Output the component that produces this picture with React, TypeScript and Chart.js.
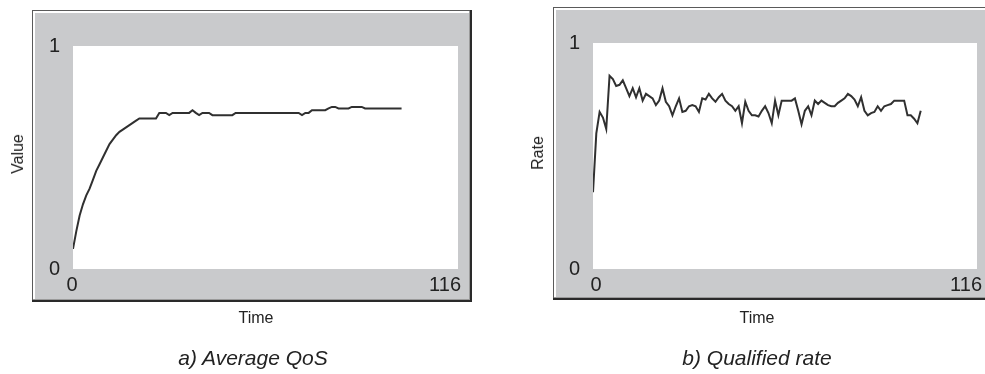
import React, { useEffect, useRef } from "react";
import { Chart, registerables } from "chart.js";

Chart.register(...registerables);

// ---- data ----
const timeMin = 0;
const timeMax = 116;
const valueTicks = [0, 1];
const timeTickLabels = [0, 116];

const averageQoS = [
  0.09, 0.17, 0.24, 0.29, 0.33, 0.36, 0.40, 0.44, 0.47, 0.50,
  0.53, 0.56, 0.58, 0.60, 0.615, 0.625, 0.635, 0.645, 0.655, 0.665,
  0.675, 0.675, 0.675, 0.675, 0.675, 0.675, 0.70, 0.70, 0.70, 0.69,
  0.70, 0.70, 0.70, 0.70, 0.70, 0.70, 0.712, 0.70, 0.69, 0.70,
  0.70, 0.70, 0.69, 0.69, 0.69, 0.69, 0.69, 0.69, 0.69, 0.70,
  0.70, 0.70, 0.70, 0.70, 0.70, 0.70, 0.70, 0.70, 0.70, 0.70,
  0.70, 0.70, 0.70, 0.70, 0.70, 0.70, 0.70, 0.70, 0.70, 0.69,
  0.70, 0.70, 0.712, 0.712, 0.712, 0.712, 0.712, 0.72, 0.727, 0.727,
  0.72, 0.72, 0.72, 0.72, 0.727, 0.727, 0.727, 0.727, 0.72, 0.72,
  0.72, 0.72, 0.72, 0.72, 0.72, 0.72, 0.72, 0.72, 0.72, 0.72,
];

const qualifiedRate = [
  0.34, 0.60, 0.695, 0.67, 0.62, 0.855, 0.84, 0.81, 0.815, 0.835,
  0.80, 0.765, 0.80, 0.76, 0.80, 0.745, 0.775, 0.765, 0.755, 0.725,
  0.745, 0.80, 0.74, 0.72, 0.68, 0.72, 0.755, 0.695, 0.70, 0.72,
  0.725, 0.72, 0.695, 0.755, 0.75, 0.775, 0.755, 0.74, 0.76, 0.775,
  0.745, 0.73, 0.72, 0.70, 0.72, 0.645, 0.74, 0.70, 0.68, 0.68,
  0.675, 0.70, 0.72, 0.69, 0.645, 0.745, 0.68, 0.745, 0.745, 0.745,
  0.745, 0.755, 0.70, 0.64, 0.70, 0.72, 0.68, 0.745, 0.73, 0.745,
  0.735, 0.725, 0.72, 0.72, 0.735, 0.745, 0.755, 0.775, 0.765, 0.75,
  0.72, 0.76, 0.70, 0.68, 0.69, 0.695, 0.72, 0.70, 0.72, 0.725,
  0.73, 0.745, 0.745, 0.745, 0.745, 0.68, 0.68, 0.665, 0.645, 0.70,
];

const FONT = '"Liberation Sans", Arial, sans-serif';
const TEXT = "#222";
const Y_AXIS_WIDTH = 30;

type FrameOpts = { l: number; t: number; r: number; b: number; dx0: number; dxEnd: number };

function makeFramePlugin(o: FrameOpts) {
  return {
    id: "frame",
    beforeDraw(chart: any) {
      const { ctx, chartArea: a } = chart;
      const L = a.left - o.l, T = a.top - o.t, R = a.right + o.r, B = a.bottom + o.b;
      ctx.save();
      ctx.fillStyle = "#c9cacc";
      ctx.fillRect(L, T, R - L, B - T);
      ctx.fillStyle = "#ffffff";
      ctx.fillRect(a.left, a.top, a.right - a.left, a.bottom - a.top);
      // bevel
      ctx.fillStyle = "#ffffff";
      ctx.fillRect(L + 1, T + 1, R - L - 3, 2);
      ctx.fillRect(L + 1, T + 1, 2, B - T - 3);
      ctx.fillStyle = "#5a5a5a";
      ctx.fillRect(L, T, R - L, 1);
      ctx.fillRect(L, T, 1, B - T);
      ctx.fillStyle = "#9a9a9a";
      ctx.fillRect(L + 1, B - 3, R - L - 2, 1);
      ctx.fillRect(R - 3, T + 1, 1, B - T - 2);
      ctx.fillStyle = "#2a2a2a";
      ctx.fillRect(L, B - 2, R - L, 2);
      ctx.fillRect(R - 2, T, 2, B - T);
      ctx.restore();
    },
    afterDraw(chart: any) {
      const { ctx, chartArea: a } = chart;
      const xs = chart.scales.x;
      ctx.save();
      ctx.font = `20px ${FONT}`;
      ctx.fillStyle = TEXT;
      ctx.textBaseline = "middle";
      timeTickLabels.forEach((v, i) => {
        const px = xs.getPixelForValue(v);
        if (i === 0) {
          ctx.textAlign = "center";
          ctx.fillText(String(v), px + o.dx0, a.bottom + 16);
        } else {
          ctx.textAlign = "right";
          ctx.fillText(String(v), px + o.dxEnd, a.bottom + 16);
        }
      });
      ctx.restore();
    },
  };
}

type PanelProps = {
  series: number[];
  left: number;
  width: number;
  padding: { left: number; right: number; top: number; bottom: number };
  frame: FrameOpts;
};

function Panel({ series, left, width, padding, frame }: PanelProps) {
  const ref = useRef<HTMLCanvasElement | null>(null);
  useEffect(() => {
    if (!ref.current) return;
    const points = series.map((y, i) => ({ x: i, y }));
    const chart = new Chart(ref.current, {
      type: "line",
      data: {
        datasets: [
          {
            data: points,
            borderColor: "#303030",
            borderWidth: 2,
            pointRadius: 0,
            tension: 0,
            fill: false,
          },
        ],
      },
      options: {
        animation: false,
        responsive: false,
        maintainAspectRatio: false,
        events: [],
        layout: { padding },
        plugins: { legend: { display: false }, tooltip: { enabled: false } },
        scales: {
          x: {
            type: "linear",
            min: timeMin,
            max: timeMax,
            grid: { display: false },
            border: { display: false },
            ticks: { display: false },
            afterFit: (s: any) => {
              s.height = 0;
            },
          },
          y: {
            type: "linear",
            min: valueTicks[0],
            max: valueTicks[valueTicks.length - 1],
            grid: { display: false },
            border: { display: false },
            ticks: {
              stepSize: 1,
              padding: 5,
              color: TEXT,
              font: { family: FONT, size: 20 },
            },
            afterFit: (s: any) => {
              s.width = Y_AXIS_WIDTH;
            },
          },
        },
      },
      plugins: [makeFramePlugin(frame)],
    });
    return () => chart.destroy();
  }, []);
  return (
    <canvas
      ref={ref}
      width={width}
      height={374}
      style={{ position: "absolute", left, top: 0, width, height: 374 }}
    />
  );
}

const textStyle = (x: number, y: number, size: number, extra: any = {}) => ({
  position: "absolute" as const,
  left: x,
  top: y,
  transform: "translate(-50%, -50%)",
  fontFamily: FONT,
  fontSize: size,
  color: TEXT,
  whiteSpace: "nowrap" as const,
  lineHeight: 1,
  ...extra,
});

export default function App() {
  return (
    <div
      style={{
        position: "absolute",
        left: 0,
        top: 0,
        width: 985,
        height: 374,
        overflow: "hidden",
        background: "#ffffff",
      }}
    >
      <Panel
        series={averageQoS}
        left={0}
        width={492}
        padding={{ left: 73 - Y_AXIS_WIDTH, right: 34, top: 46, bottom: 105 }}
        frame={{ l: 41, t: 36, r: 14, b: 33, dx0: -1, dxEnd: 3 }}
      />
      <Panel
        series={qualifiedRate}
        left={492}
        width={493}
        padding={{ left: 101 - Y_AXIS_WIDTH, right: 8, top: 43, bottom: 105 }}
        frame={{ l: 40, t: 36, r: 30, b: 31, dx0: 3, dxEnd: 5 }}
      />
      <div style={textStyle(18, 154, 16, { transform: "translate(-50%, -50%) rotate(-90deg)" })}>Value</div>
      <div style={textStyle(538, 153, 16, { transform: "translate(-50%, -50%) rotate(-90deg)" })}>Rate</div>
      <div style={textStyle(256, 318, 16)}>Time</div>
      <div style={textStyle(757, 318, 16)}>Time</div>
      <div style={textStyle(253, 357, 21, { fontStyle: "italic" })}>a) Average QoS</div>
      <div style={textStyle(757, 357, 21, { fontStyle: "italic" })}>b) Qualified rate</div>
    </div>
  );
}
